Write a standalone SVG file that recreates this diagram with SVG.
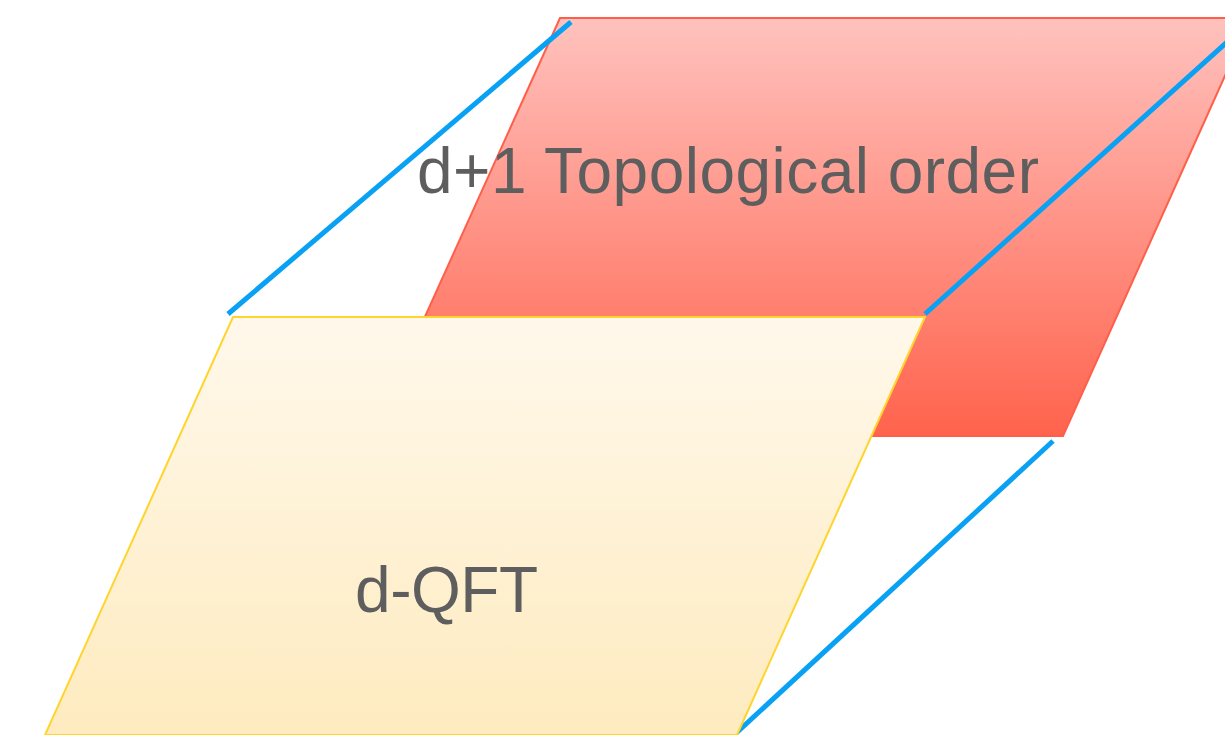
<svg xmlns="http://www.w3.org/2000/svg" width="1225" height="735" viewBox="0 0 1225 735">
<defs>
<linearGradient id="gRed" x1="0" y1="0" x2="0" y2="1">
<stop offset="0" stop-color="#ffc2be"/>
<stop offset="1" stop-color="#ff634d"/>
</linearGradient>
<linearGradient id="gYel" x1="0" y1="0" x2="0" y2="1">
<stop offset="0" stop-color="#fff8eb"/>
<stop offset="1" stop-color="#feebbf"/>
</linearGradient>
<style>
.lbl{font-family:"Liberation Sans","Helvetica",Arial,sans-serif;font-size:64px;fill:#5e5e5e}
.con{stroke:#09a1f3;stroke-width:5;fill:none}
</style>
</defs>
<rect width="1225" height="735" fill="#ffffff"/>
<g id="topological-order">
<polygon points="560,18 1251,18 1063,436 371,436" fill="url(#gRed)" stroke="#ff5f4a" stroke-width="2"/>
<text class="lbl" x="417" y="193" textLength="622" lengthAdjust="spacing">d+1 Topological order</text>
</g>
<g id="connectors">
<line class="con" x1="228" y1="314" x2="571" y2="22"/>
<line class="con" x1="925" y1="314" x2="1247" y2="24"/>
<line class="con" x1="1053" y1="441" x2="733" y2="736"/>
</g>
<g id="d-qft">
<polygon points="233,317 925,317 737,735 45,735" fill="url(#gYel)" stroke="#ffd42c" stroke-width="2"/>
<text class="lbl" x="355" y="612" textLength="183" lengthAdjust="spacing">d-QFT</text>
</g>
</svg>
